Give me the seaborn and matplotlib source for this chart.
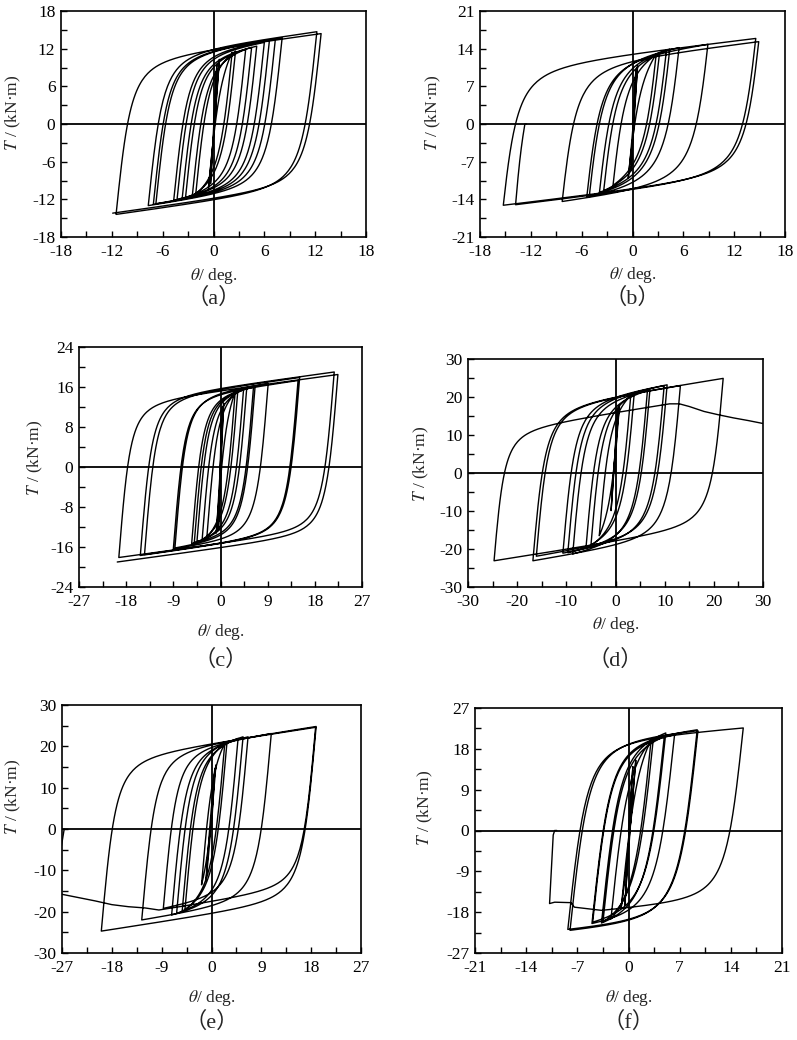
import numpy as np
import pandas as pd
import matplotlib
matplotlib.use("Agg")
import matplotlib.pyplot as plt
from matplotlib.ticker import MultipleLocator
import seaborn as sns

# peak (reversal) points of each cycle
a_pos_theta = [0.4, 0.7, 2.2, 2.6, 3.8, 4.5, 5.1, 6.0, 6.6, 7.3, 8.1, 12.2, 12.7]
a_pos_T = [9.5, 10.3, 11.4, 11.6, 11.9, 12.2, 12.4, 13.0, 13.3, 13.5, 13.7, 14.7, 14.4]
a_neg_theta = [-0.35, -0.6, -2.1, -2.5, -3.3, -3.7, -4.3, -4.7, -6.8, -7.1, -7.7, -11.5, -11.9]
a_neg_T = [-9.5, -10.2, -11.2, -11.4, -11.7, -11.9, -12.0, -12.2, -12.7, -12.8, -13.0, -14.4, -14.2]
a_tail_theta = []
a_tail_T = []

b_pos_theta = [0.4, 0.6, 2.8, 3.2, 4.0, 4.4, 5.5, 8.9, 14.9, 14.55]
b_pos_T = [10.0, 10.8, 13.0, 13.3, 13.6, 13.9, 14.2, 14.8, 15.3, 15.9]
b_neg_theta = [-0.15, -0.5, -2.3, -3.4, -3.9, -5.1, -5.4, -8.3, -15.25, -13.8]
b_neg_T = [-8.6, -10.0, -11.4, -12.4, -12.7, -13.4, -13.6, -14.4, -15.1, -15.0]
b_tail_theta = [-12.7, -12.5]
b_tail_T = [0.0, 0.0]

c_pos_theta = [0.25, 0.6, 2.8, 3.3, 4.4, 5.0, 6.3, 6.6, 9.1, 14.8, 15.1, 21.7, 22.4]
c_pos_T = [12.0, 12.8, 15.0, 15.2, 15.5, 15.7, 16.0, 16.1, 16.7, 17.3, 17.9, 19.0, 18.5]
c_neg_theta = [-0.4, -0.8, -2.6, -3.5, -4.5, -5.0, -5.5, -8.7, -9.0, -14.5, -15.3, -19.4, -19.7]
c_neg_T = [-12.7, -13.2, -14.0, -14.5, -15.0, -15.1, -15.3, -16.2, -16.4, -17.5, -17.7, -18.1, -19.0]
c_tail_theta = []
c_tail_T = []

d_pos_theta = [0.4, 0.8, 3.1, 3.8, 6.5, 7.0, 9.9, 10.5, 13.2, 21.9]
d_pos_T = [16.8, 17.5, 20.4, 20.8, 21.7, 21.9, 23.0, 23.2, 23.0, 24.9]
d_neg_theta = [-0.9, -3.3, -5.0, -6.0, -8.7, -9.7, -10.7, -16.1, -16.8, -24.7]
d_neg_T = [-9.9, -16.5, -19.1, -19.6, -21.3, -21.0, -21.1, -21.9, -23.1, -23.1]
d_tail_theta = [11.0, 13.0, 15.0, 18.0, 21.0, 24.0, 27.0, 30.5]
d_tail_T = [18.2, 18.2, 17.5, 16.2, 15.3, 14.5, 13.8, 12.9]

e_pos_theta = [0.6, 0.8, 2.4, 2.8, 4.8, 5.7, 6.6, 10.8, 18.9, 18.8]
e_pos_T = [14.7, 15.5, 20.7, 21.0, 21.9, 22.3, 22.3, 23.1, 24.8, 24.6]
e_neg_theta = [-1.0, -1.8, -4.8, -5.3, -6.3, -7.2, -8.7, -12.6, -19.9]
e_neg_T = [-12.5, -13.5, -19.6, -19.9, -20.4, -20.8, -19.2, -22.0, -24.7]
e_tail_theta = [-9.5, -12.0, -15.0, -18.0, -21.0, -24.0, -27.0, -28.5, -26.6]
e_tail_T = [-19.6, -19.1, -18.8, -18.3, -17.4, -16.6, -15.8, -15.4, 0.0]

f_pos_theta = [0.6, 1.0, 3.1, 3.4, 4.9, 5.1, 6.3, 9.4, 9.5, 15.7]
f_pos_T = [14.1, 15.5, 20.0, 20.2, 20.7, 21.5, 21.1, 22.2, 22.0, 22.6]
f_neg_theta = [-0.5, -1.0, -2.4, -3.5, -3.7, -4.9, -5.0, -8.0, -8.3]
f_neg_T = [-16.5, -17.0, -19.5, -20.2, -20.4, -20.2, -20.5, -22.0, -21.8]
f_tail_theta = [-3.7, -7.4, -7.9, -10.1, -10.8, -10.3, -10.1, -9.8]
f_tail_T = [-17.6, -16.9, -15.9, -15.8, -16.1, -1.0, 0.0, 0.0]

panel_letters = ["a", "b", "c", "d", "e", "f"]
x_limits = [18, 18, 27, 30, 27, 21]
y_limits = [18, 21, 24, 30, 30, 27]

W, H = 797, 1040
# axes box in pixels: left, right, top, bottom
boxes = [(61, 366, 11, 237), (480, 785, 11, 237),
         (79, 362, 347, 587), (468, 763, 359, 587),
         (62, 361, 705, 953), (475, 782, 708, 953)]
# ylabel x / y centre, xlabel y, caption y (pixels)
ylab_pos = [(13, 113), (433, 113), (35, 458), (421, 464), (13, 797), (425, 808)]
xlab_y = [276, 275, 632, 625, 998, 998]
cap_y = [298, 298, 660, 660, 1022, 1022]
# loop model: elastic stiffness, hardening slope, transition sharpness
model = [(13, 0.18, 2.0), (14, 0.18, 1.7), (13, 0.14, 2.1),
         (15, 0.20, 1.9), (15, 0.20, 2.1), (15, 0.12, 2.1)]


def mp_branch(t0, T0, t1, T1, K, kh, R, n=150):
    # Menegotto-Pinto branch from reversal (t0,T0) towards (t1,T1)
    tx = (T1 - kh * t1 - T0 + K * t0) / (K - kh)
    Tx = T0 + K * (tx - t0)
    th = np.linspace(t0, t1, n)
    e = (th - t0) / (tx - t0)
    b = kh / K
    s = b * e + (1 - b) * e / (1 + np.abs(e) ** R) ** (1 / R)
    T = T0 + s * (Tx - T0)
    T = T + (T1 - T[-1]) * (th - t0) / (t1 - t0)
    return th, T


def build_path(pos_t, pos_T, neg_t, neg_T, tail_t, tail_T, K, kh, R):
    pts = [(0.0, 0.0)]
    for i in range(len(pos_t)):
        pts.append((pos_t[i], pos_T[i]))
        if i < len(neg_t):
            pts.append((neg_t[i], neg_T[i]))
    if tail_t:
        pts.append((tail_t[0], tail_T[0]))
    xs, ys = [], []
    for (t0, T0), (t1, T1) in zip(pts[:-1], pts[1:]):
        th, T = mp_branch(t0, T0, t1, T1, K, kh, R)
        xs.extend(th)
        ys.extend(T)
    xs.extend(tail_t[1:])
    ys.extend(tail_T[1:])
    return pd.DataFrame({"theta": xs, "T": ys})


data = [
    (a_pos_theta, a_pos_T, a_neg_theta, a_neg_T, a_tail_theta, a_tail_T),
    (b_pos_theta, b_pos_T, b_neg_theta, b_neg_T, b_tail_theta, b_tail_T),
    (c_pos_theta, c_pos_T, c_neg_theta, c_neg_T, c_tail_theta, c_tail_T),
    (d_pos_theta, d_pos_T, d_neg_theta, d_neg_T, d_tail_theta, d_tail_T),
    (e_pos_theta, e_pos_T, e_neg_theta, e_neg_T, e_tail_theta, e_tail_T),
    (f_pos_theta, f_pos_T, f_neg_theta, f_neg_T, f_tail_theta, f_tail_T),
]

sns.set_theme(style="ticks")
plt.rcParams["font.family"] = ["Liberation Serif", "Noto Sans CJK KR"]
plt.rcParams["mathtext.fontset"] = "stix"
plt.rcParams["axes.unicode_minus"] = False

fig = plt.figure(figsize=(W / 100, H / 100), dpi=100)

for i in range(6):
    l, r, t, btm = boxes[i]
    ax = fig.add_axes([l / W, 1 - btm / H, (r - l) / W, (btm - t) / H])
    df = build_path(*data[i], *model[i])
    sns.lineplot(data=df, x="theta", y="T", sort=False, estimator=None,
                 color="black", lw=1.0, ax=ax)
    ax.axhline(0, color="black", lw=1.3)
    ax.axvline(0, color="black", lw=1.3)

    xl, yl = x_limits[i], y_limits[i]
    ax.set_xlim(-xl, xl)
    ax.set_ylim(-yl, yl)
    ax.set_xticks(np.arange(-xl, xl + 0.1, xl / 3))
    ax.set_yticks(np.arange(-yl, yl + 0.1, yl / 3))
    ax.xaxis.set_minor_locator(MultipleLocator(xl / 6))
    ax.yaxis.set_minor_locator(MultipleLocator(yl / 6))
    ax.set_xticklabels([f"{v:.0f}" for v in ax.get_xticks()])
    ax.set_yticklabels([f"{v:.0f}" for v in ax.get_yticks()])
    ax.tick_params(which="both", direction="in", length=4, width=1,
                   top=False, right=False, labelsize=12.5, colors="black")
    ax.tick_params(axis="x", pad=5)
    ax.tick_params(axis="y", pad=4)
    for sp in ax.spines.values():
        sp.set_linewidth(1.2)
        sp.set_color("black")
    ax.set_xlabel("")
    ax.set_ylabel("")

    cx = (l + r) / 2
    fig.text(ylab_pos[i][0] / W, 1 - ylab_pos[i][1] / H, r"$T$ / (kN·m)",
             rotation=90, ha="center", va="center", fontsize=12.5)
    fig.text(cx / W, 1 - xlab_y[i] / H, r"$\theta$/ deg.",
             ha="center", va="center", fontsize=12.5)
    fig.text(cx / W, 1 - cap_y[i] / H, f"（{panel_letters[i]}）",
             ha="center", va="center", fontsize=16)

fig.savefig("out.png", dpi=100, facecolor="white")
